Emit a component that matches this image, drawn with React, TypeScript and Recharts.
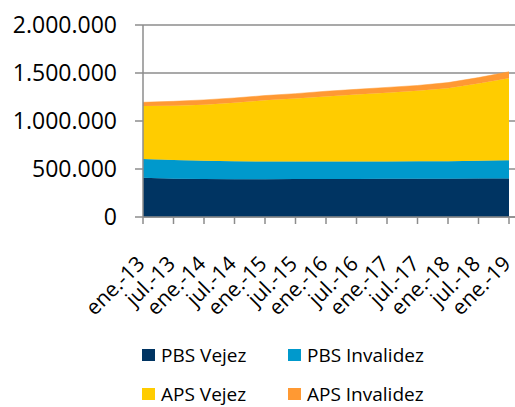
import React from 'react';
import { AreaChart, Area, XAxis, YAxis, CartesianGrid, Legend } from 'recharts';

// Beneficiarios por semestre (ene.-13 a ene.-19)
const periods = [
  'ene.-13', 'jul.-13', 'ene.-14', 'jul.-14', 'ene.-15', 'jul.-15', 'ene.-16',
  'jul.-16', 'ene.-17', 'jul.-17', 'ene.-18', 'jul.-18', 'ene.-19',
];
const pbsVejez = [408000, 398000, 395000, 392000, 394000, 396000, 397000, 397000, 398000, 398000, 399000, 400000, 402000];
const pbsInvalidez = [197000, 197000, 190000, 188000, 184000, 181000, 180000, 180000, 180000, 182000, 183000, 185000, 188000];
const apsVejez = [550000, 565000, 585000, 610000, 637000, 658000, 678000, 698000, 717000, 735000, 758000, 805000, 855000];
const apsInvalidez = [40000, 45000, 50000, 50000, 50000, 50000, 55000, 55000, 55000, 55000, 60000, 62000, 68000];
const yTicks = [0, 500000, 1000000, 1500000, 2000000];

const series = [
  { key: 'pbsVejez', name: 'PBS Vejez', color: '#003462' },
  { key: 'pbsInvalidez', name: 'PBS Invalidez', color: '#0099CC' },
  { key: 'apsVejez', name: 'APS Vejez', color: '#FFCC00' },
  { key: 'apsInvalidez', name: 'APS Invalidez', color: '#FF9933' },
];

const data = periods.map((label, i) => ({
  label,
  pbsVejez: pbsVejez[i],
  pbsInvalidez: pbsInvalidez[i],
  apsVejez: apsVejez[i],
  apsInvalidez: apsInvalidez[i],
}));

const FONT = '"Open Sans", sans-serif';
const GRID = '#8c8c8c';

// 1500000 -> "1.500.000"
function formatMiles(v: number): string {
  return String(v).replace(/\B(?=(\d{3})+(?!\d))/g, '.');
}

function AngledTick({ x, payload }: any) {
  const tx = x + 3;
  const ty = 217 + 48;
  return (
    <text
      x={tx}
      y={ty}
      transform={`rotate(-45, ${tx}, ${ty})`}
      textAnchor="end"
      fontSize={21}
      fontFamily={FONT}
      fill="#000"
    >
      {payload.value}
    </text>
  );
}

function GridLegend() {
  const pos = [
    { left: 142, top: 36 },
    { left: 288, top: 36 },
    { left: 142, top: 75 },
    { left: 288, top: 75 },
  ];
  return (
    <div style={{ position: 'relative', width: 515, height: 97, fontFamily: FONT }}>
      {series.map((s, i) => (
        <div
          key={s.key}
          style={{ position: 'absolute', left: pos[i].left, top: pos[i].top, display: 'flex', alignItems: 'center', height: 18 }}
        >
          <span style={{ display: 'inline-block', width: 13, height: 12, background: s.color, marginRight: 6 }} />
          <span style={{ fontSize: 19, color: '#000', lineHeight: '18px', whiteSpace: 'nowrap' }}>{s.name}</span>
        </div>
      ))}
    </div>
  );
}

export default function App() {
  return (
    <div style={{ position: 'absolute', left: 0, top: 0, background: '#fff' }}>
      <AreaChart width={515} height={407} data={data} margin={{ top: 25, right: 0, left: 0, bottom: 0 }}>
        <CartesianGrid vertical={false} stroke={GRID} strokeWidth={1.5} />
        <XAxis
          dataKey="label"
          interval={0}
          height={93}
          padding={{ left: 0, right: 6 }}
          tick={<AngledTick />}
          tickSize={7}
          axisLine={{ stroke: GRID, strokeWidth: 1.5 }}
          tickLine={{ stroke: GRID, strokeWidth: 1.5 }}
        />
        <YAxis
          width={143}
          domain={[0, 2000000]}
          ticks={yTicks}
          tickFormatter={formatMiles}
          tickSize={8}
          tickMargin={18}
          tick={{ fontSize: 23, fill: '#000', fontFamily: FONT }}
          axisLine={{ stroke: GRID, strokeWidth: 1.5 }}
          tickLine={{ stroke: GRID, strokeWidth: 1.5 }}
        />
        <Legend verticalAlign="bottom" content={<GridLegend />} wrapperStyle={{ left: 0, width: 515 }} />
        {series.map((s) => (
          <Area
            key={s.key}
            type="linear"
            dataKey={s.key}
            name={s.name}
            stackId="1"
            stroke={s.color}
            strokeWidth={0.5}
            fill={s.color}
            fillOpacity={1}
            isAnimationActive={false}
          />
        ))}
      </AreaChart>
    </div>
  );
}
